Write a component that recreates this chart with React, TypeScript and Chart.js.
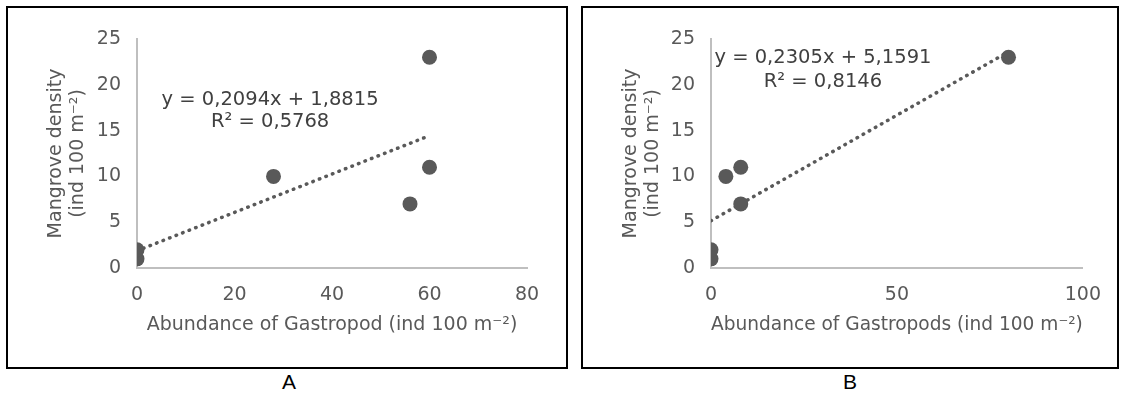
import React, { useEffect, useRef } from "react";
import { Chart, registerables } from "chart.js";

Chart.register(...registerables);

// Panel A data
const gastropodA = [0, 0, 28, 56, 60, 60];
const mangroveA = [1, 2, 10, 7, 11, 23];
// Panel B data
const gastropodB = [0, 0, 4, 8, 8, 80];
const mangroveB = [1, 2, 10, 11, 7, 23];

// Regression coefficients read from the equations
const slopes = [0.2094, 0.2305];
const intercepts = [1.8815, 5.1591];
const equationLines = [
  ["y = 0,2094x + 1,8815", "R² = 0,5768"],
  ["y = 0,2305x + 5,1591", "R² = 0,8146"],
];

// Axis ticks
const xMaxs = [80, 100];
const xSteps = [20, 50];
const yMax = 25;
const yStep = 5;

const xTitles = [
  "Abundance of Gastropod (ind 100 m⁻²)",
  "Abundance of Gastropods (ind 100 m⁻²)",
];
const yTitle = ["Mangrove density", "(ind 100 m⁻²)"];
const panelLetters = ["A", "B"];

const FONT = "'DejaVu Sans', Verdana, sans-serif";
const DARK = "#595959";
const TEXT = "#595959";
const AXIS = "#bfbfbf";

type PanelProps = {
  idx: number;
  xs: number[];
  ys: number[];
  width: number;
  height: number;
  area: { left: number; right: number; top: number; bottom: number };
  eqAnchor: { x: number; y1: number; y2: number };
};

function Panel({ idx, xs, ys, width, height, area, eqAnchor }: PanelProps) {
  const ref = useRef<HTMLCanvasElement | null>(null);
  useEffect(() => {
    if (!ref.current) return;
    const points = xs.map((x, i) => ({ x, y: ys[i] }));
    const xmin = Math.min(...xs);
    const xmax = Math.max(...xs);
    const trend = [xmin, xmax].map((x) => ({ x, y: slopes[idx] * x + intercepts[idx] }));

    const eqPlugin = {
      id: "eq" + idx,
      afterDatasetsDraw(chart: any) {
        const { ctx, scales } = chart;
        ctx.save();
        ctx.font = `19.5px ${FONT}`;
        ctx.fillStyle = "#404040";
        ctx.textAlign = "center";
        ctx.textBaseline = "middle";
        const px = scales.x.getPixelForValue(eqAnchor.x);
        ctx.fillText(equationLines[idx][0], px, scales.y.getPixelForValue(eqAnchor.y1));
        ctx.fillText(equationLines[idx][1], px, scales.y.getPixelForValue(eqAnchor.y2));
        ctx.restore();
      },
    };

    const font = { family: FONT, size: 19 };
    const chart = new Chart(ref.current, {
      type: "scatter",
      data: {
        datasets: [
          {
            type: "line",
            data: trend,
            borderColor: DARK,
            borderWidth: 3.5,
            borderCapStyle: "round",
            borderDash: [0.5, 6.5],
            pointRadius: 0,
            fill: false,
            order: 1,
          } as any,
          {
            data: points,
            backgroundColor: DARK,
            borderWidth: 0,
            pointRadius: 7.5,
            order: 0,
          },
        ],
      },
      options: {
        animation: false,
        responsive: false,
        events: [],
        layout: { padding: { left: 0, top: area.top, right: width - area.right, bottom: 0 } },
        plugins: { legend: { display: false }, tooltip: { enabled: false } },
        scales: {
          x: {
            type: "linear",
            min: 0,
            max: xMaxs[idx],
            ticks: { stepSize: xSteps[idx], color: TEXT, font, padding: 16, maxRotation: 0 },
            grid: { display: false, drawTicks: false },
            border: { color: AXIS, width: 2 },
            title: {
              display: true,
              text: xTitles[idx],
              color: TEXT,
              font,
              padding: { top: 0, bottom: 31 },
            },
            afterFit: (s: any) => {
              s.height = height - area.bottom;
            },
          },
          y: {
            type: "linear",
            min: 0,
            max: yMax,
            ticks: { stepSize: yStep, color: TEXT, font, padding: 16 },
            grid: { display: false, drawTicks: false },
            border: { color: AXIS, width: 2 },
            title: {
              display: true,
              text: yTitle,
              color: TEXT,
              font: { ...font, lineHeight: 1.15 },
              padding: { top: 37, bottom: 0 },
            },
            afterFit: (s: any) => {
              s.width = area.left;
            },
          },
        },
      },
      plugins: [eqPlugin],
    });
    return () => chart.destroy();
  }, []);
  return <canvas ref={ref} width={width} height={height} style={{ width, height, display: "block" }} />;
}

export default function App() {
  const boxStyle = (left: number, width: number): React.CSSProperties => ({
    position: "absolute",
    left,
    top: 6,
    width,
    height: 359,
    border: "2px solid #000",
    background: "#fff",
  });
  const letterStyle = (cx: number): React.CSSProperties => ({
    position: "absolute",
    left: cx - 20,
    width: 40,
    top: 370,
    lineHeight: "24px",
    textAlign: "center",
    font: "21px 'Liberation Sans', Arial, sans-serif",
    color: "#000",
  });
  return (
    <div>
      <div style={boxStyle(6, 558)}>
        <Panel
          idx={0}
          xs={gastropodA}
          ys={mangroveA}
          width={558}
          height={359}
          area={{ left: 129, right: 519, top: 31, bottom: 260 }}
          eqAnchor={{ x: 27.3, y1: 18.3, y2: 15.9 }}
        />
      </div>
      <div style={boxStyle(581, 534)}>
        <Panel
          idx={1}
          xs={gastropodB}
          ys={mangroveB}
          width={534}
          height={359}
          area={{ left: 128, right: 500, top: 31, bottom: 260 }}
          eqAnchor={{ x: 30.1, y1: 22.9, y2: 20.3 }}
        />
      </div>
      <div style={letterStyle(289)}>{panelLetters[0]}</div>
      <div style={letterStyle(850)}>{panelLetters[1]}</div>
    </div>
  );
}
